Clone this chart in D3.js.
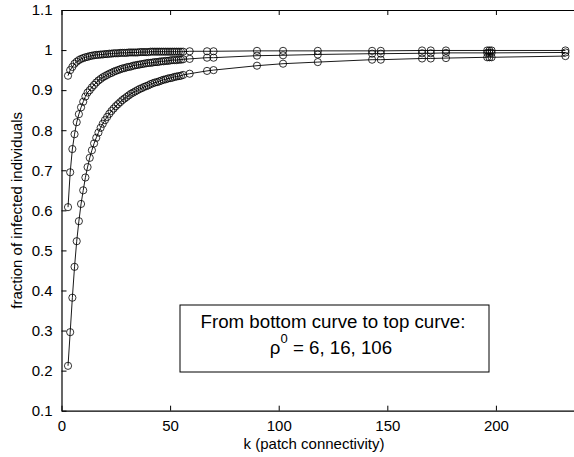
<!DOCTYPE html>
<html>
<head>
<meta charset="utf-8">
<script src="https://cdn.jsdelivr.net/npm/d3@7"></script>
<style>
    body { margin: 0; background: #fff; }
    text { font-family: "Liberation Sans", Arial, sans-serif; fill: #000; }
</style>
</head>
<body>
<script>
// k values (patch connectivity)
const kValues = [3, 4, 5, 6, 7, 8, 9, 10, 11, 12, 13, 14, 15, 16, 17, 18, 19, 20,
    21, 22, 23, 24, 25, 26, 27, 28, 29, 30, 31, 32, 33, 34, 35, 36, 37, 38, 39, 40,
    41, 42, 43, 44, 45, 46, 47, 48, 49, 50, 51, 52, 53, 54, 55, 56,
    59, 67, 70, 90, 102, 118, 143, 147, 166, 170, 177, 196, 197, 198, 232]

// rho0 = 6 (bottom curve)
const rho6 = [0.212, 0.296, 0.382, 0.459, 0.523, 0.573, 0.616, 0.650, 0.682, 0.708,
    0.731, 0.750, 0.767, 0.781, 0.794, 0.806, 0.816, 0.825, 0.833, 0.841, 0.848, 0.854,
    0.860, 0.865, 0.870, 0.875, 0.879, 0.883, 0.887, 0.891, 0.894, 0.897, 0.900, 0.903,
    0.905, 0.908, 0.910, 0.912, 0.915, 0.917, 0.919, 0.920, 0.922, 0.924, 0.926, 0.927,
    0.929, 0.930, 0.931, 0.933, 0.934, 0.935, 0.936, 0.938,
    0.941, 0.948, 0.950, 0.961, 0.966, 0.970, 0.976, 0.976, 0.979, 0.979, 0.980, 0.982, 0.982, 0.982, 0.985]

// rho0 = 16 (middle curve)
const rho16 = [0.608, 0.695, 0.753, 0.790, 0.820, 0.840, 0.857, 0.871, 0.884, 0.894,
    0.900, 0.907, 0.913, 0.919, 0.924, 0.928, 0.932, 0.935, 0.938, 0.941, 0.943, 0.946,
    0.948, 0.950, 0.952, 0.954, 0.955, 0.957, 0.958, 0.959, 0.961, 0.962, 0.963, 0.964,
    0.965, 0.966, 0.967, 0.968, 0.968, 0.969, 0.970, 0.970, 0.971, 0.972, 0.972, 0.973,
    0.973, 0.974, 0.975, 0.975, 0.975, 0.976, 0.976, 0.977,
    0.978, 0.981, 0.981, 0.986, 0.987, 0.989, 0.991, 0.991, 0.992, 0.992, 0.993, 0.993, 0.993, 0.993, 0.994]

// rho0 = 106 (top curve)
const rho106 = [0.936, 0.950, 0.958, 0.966, 0.971, 0.975, 0.978, 0.980, 0.982, 0.983,
    0.985, 0.986, 0.987, 0.988, 0.988, 0.989, 0.989, 0.990, 0.990, 0.991, 0.991, 0.992,
    0.992, 0.992, 0.993, 0.993, 0.993, 0.993, 0.994, 0.994, 0.994, 0.994, 0.994, 0.995,
    0.995, 0.995, 0.995, 0.995, 0.996, 0.996, 0.996, 0.996, 0.996, 0.996, 0.996, 0.996,
    0.996, 0.996, 0.996, 0.996, 0.996, 0.996, 0.996, 0.996,
    0.997, 0.997, 0.997, 0.998, 0.998, 0.998, 0.998, 0.998, 0.999, 0.999, 0.999, 0.999, 0.999, 0.999, 0.999]

const xTicks = [0, 50, 100, 150, 200]
const yTicks = [0.1, 0.2, 0.3, 0.4, 0.5, 0.6, 0.7, 0.8, 0.9, 1, 1.1]
const legendLines = ["From bottom curve to top curve:", "= 6, 16, 106"]

//----------------------------------------------------------------------------------------------
const width = 574
const height = 457

const svg = d3.select("body")
    .append("svg")
    .attr("width", width)
    .attr("height", height)

const x = d3.scaleLinear()
    .domain([0, 240])
    .range([61.5, 582.8])

const y = d3.scaleLinear()
    .domain([0.1, 1.1])
    .range([410.7, 10])

//------------------------------- axes ---------------------------------------------------------
const fmt = d => d3.format("")(d)

// bottom axis, ticks inside
svg.append("g")
    .attr("transform", `translate(0, ${y(0.1)})`)
    .call(d3.axisBottom(x).tickValues(xTicks).tickSizeInner(-5).tickSizeOuter(0).tickPadding(10).tickFormat(fmt))
    .call(g => g.select(".domain").attr("stroke-width", 1.2))
    .call(g => g.selectAll("text").attr("font-size", 15).attr("font-family", "Liberation Sans, Arial, sans-serif"))

// top axis, no labels
svg.append("g")
    .attr("transform", `translate(0, ${y(1.1)})`)
    .call(d3.axisTop(x).tickValues(xTicks).tickSizeInner(-5).tickSizeOuter(0).tickFormat(""))
    .call(g => g.select(".domain").attr("stroke-width", 1.2))

// left axis
svg.append("g")
    .attr("transform", `translate(${x(0)}, 0)`)
    .call(d3.axisLeft(y).tickValues(yTicks).tickSizeInner(-5).tickSizeOuter(0).tickPadding(9).tickFormat(fmt))
    .call(g => g.select(".domain").attr("stroke-width", 1.2))
    .call(g => g.selectAll("text").attr("font-size", 15).attr("font-family", "Liberation Sans, Arial, sans-serif"))

// axis labels
svg.append("text")
    .attr("x", 314)
    .attr("y", 449)
    .attr("text-anchor", "middle")
    .attr("font-size", 15)
    .text("k (patch connectivity)")

svg.append("text")
    .attr("transform", `translate(22, ${(y(0.1) + y(1.1)) / 2}) rotate(-90)`)
    .attr("text-anchor", "middle")
    .attr("font-size", 15)
    .text("fraction of infected individuals")

//------------------------------- curves -------------------------------------------------------
const series = [rho6, rho16, rho106]

const line = d3.line()
    .x(d => x(d[0]))
    .y(d => y(d[1]))

series.forEach(values => {
    const pts = kValues.map((k, i) => [k, values[i]])
    const g = svg.append("g")
    g.append("path")
        .datum(pts)
        .attr("d", line)
        .attr("fill", "none")
        .attr("stroke", "#000")
        .attr("stroke-width", 0.9)
    g.selectAll("circle")
        .data(pts)
        .join("circle")
        .attr("cx", d => x(d[0]))
        .attr("cy", d => y(d[1]))
        .attr("r", 3.6)
        .attr("fill", "none")
        .attr("stroke", "#000")
        .attr("stroke-width", 0.8)
})

//------------------------------- legend box ---------------------------------------------------
const legend = svg.append("g")

legend.append("rect")
    .attr("x", 180)
    .attr("y", 305)
    .attr("width", 309)
    .attr("height", 67)
    .attr("fill", "#fff")
    .attr("stroke", "#000")
    .attr("stroke-width", 1)

legend.append("text")
    .attr("x", 333)
    .attr("y", 328)
    .attr("text-anchor", "middle")
    .attr("font-size", 18.7)
    .text(legendLines[0])

const second = legend.append("text")
    .attr("x", 331)
    .attr("y", 354)
    .attr("text-anchor", "middle")
    .attr("font-size", 18.7)
second.append("tspan").text("\u03c1")
second.append("tspan").attr("dy", -11).attr("font-size", 13).text("0")
second.append("tspan").attr("dy", 11).text(" " + legendLines[1])
</script>
</body>
</html>
